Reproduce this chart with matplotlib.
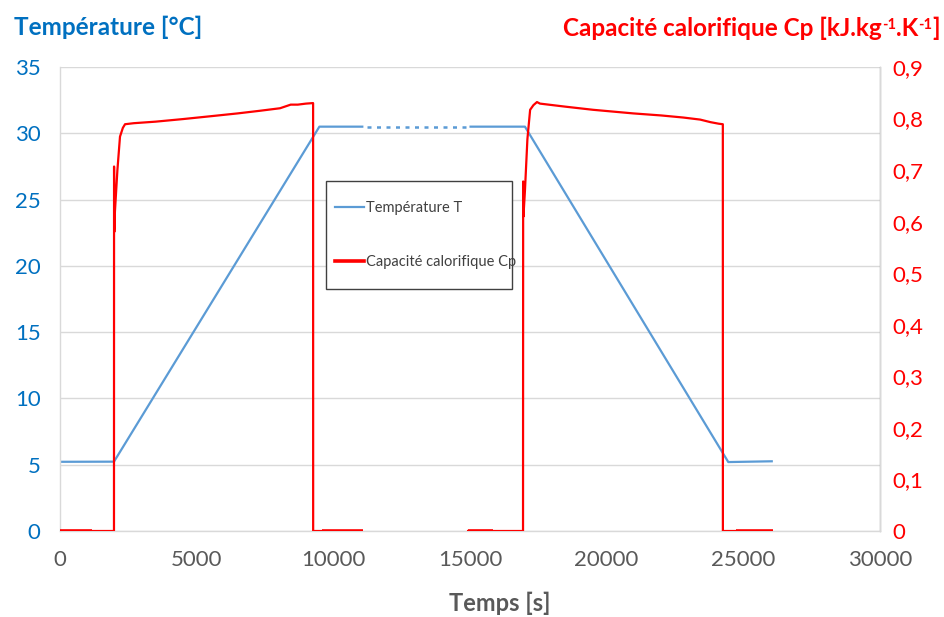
import numpy as np
import matplotlib
matplotlib.use('Agg')
import matplotlib.pyplot as plt
from matplotlib.lines import Line2D
from matplotlib.patches import Rectangle
from matplotlib.ticker import FuncFormatter

plt.rcParams['font.family'] = ['Lato', 'DejaVu Sans']

# temperature T [degC] vs time [s]
t_run1 = [0, 1975, 9490, 11100]
T_run1 = [5.22, 5.23, 30.5, 30.5]
t_gap = [11230, 14880]
T_gap = [30.5, 30.5]
t_run2 = [14980, 17010, 24450, 26080]
T_run2 = [30.5, 30.5, 5.2, 5.26]

# heat capacity Cp [kJ/kg/K] vs time [s]
t_cp1 = [0, 1975, 1978, 1985, 2010, 2100, 2195, 2300, 2380, 2700, 3500, 4500,
         5600, 6500, 7300, 8050, 8440, 8700, 9000, 9260, 9262, 9590]
cp1 = [0, 0, 0.707, 0.58, 0.62, 0.70, 0.765, 0.782, 0.789, 0.791, 0.794, 0.799,
       0.805, 0.810, 0.815, 0.820, 0.827, 0.827, 0.829, 0.830, 0, 0]
t_cp2 = [14930, 16940, 16945, 16955, 17010, 17100, 17200, 17320, 17450, 17560,
         18500, 19500, 20970, 22000, 22800, 23420, 23800, 24100, 24250, 24252, 24730]
cp2 = [0, 0, 0.678, 0.61, 0.66, 0.76, 0.817, 0.826, 0.832, 0.829,
       0.823, 0.817, 0.810, 0.806, 0.802, 0.798, 0.793, 0.790, 0.789, 0, 0]
# heavier stretches of the Cp trace at zero
zero_segs = [(0, 1160), (9590, 11090), (14930, 15840), (24730, 26080)]

blue = '#5B9BD5'
red = '#FF0000'
grey = '#595959'

fig = plt.figure(figsize=(9.44, 6.17), dpi=100)
ax = fig.add_axes([60/944, 1-531/617, 820/944, 464/617])
ax2 = ax.twinx()

ax.plot(t_run1, T_run1, color=blue, lw=1.6, solid_capstyle='butt')
ax.plot(t_gap, T_gap, color=blue, lw=1.8, linestyle=(0, (1.6, 2.2)))
ax.plot(t_run2, T_run2, color=blue, lw=1.6, solid_capstyle='butt')

ax2.plot(t_cp1, cp1, color=red, lw=1.6)
ax2.plot(t_cp2, cp2, color=red, lw=1.6)
for a, b in zero_segs:
    ax2.plot([a, b], [0, 0], color=red, lw=2.6, solid_capstyle='butt')

ax.set_xlim(0, 30000)
ax.set_ylim(0, 35)
ax2.set_ylim(0, 0.9)
ax.set_xticks(np.arange(0, 30001, 5000))
ax.set_yticks(np.arange(0, 36, 5))
ax2.set_yticks(np.arange(0, 0.91, 0.1))
ax2.yaxis.set_major_formatter(FuncFormatter(
    lambda v, p: '0' if abs(v) < 1e-9 else ('%.1f' % v).replace('.', ',')))

ax.grid(axis='y', color='#D9D9D9', lw=1)
ax.set_axisbelow(True)
ax.spines['top'].set_visible(False)
ax2.spines['top'].set_visible(False)
for sp in [ax.spines['left'], ax.spines['bottom'], ax2.spines['right']]:
    sp.set_color('#D9D9D9')
    sp.set_linewidth(1)
ax2.spines['left'].set_visible(False)
ax2.spines['bottom'].set_visible(False)

ax.tick_params(axis='x', length=0, pad=14, labelsize=16, labelcolor=grey)
ax.tick_params(axis='y', length=0, pad=14, labelsize=16, labelcolor='#0070C0')
ax2.tick_params(axis='y', length=0, pad=9, labelsize=16, labelcolor=red)

fig.text(14/944, 1-27/617, 'Température [°C]', color='#0070C0', fontsize=17.5,
         fontweight='bold', ha='left', va='center')
fig.text(500/944, 1-603/617, 'Temps [s]', color=grey, fontsize=17,
         fontweight='bold', ha='center', va='center')

# right title, built piece by piece for the superscripts
pieces = [('Capacité calorifique Cp [kJ.kg', 17.5, 0),
          ('-1', 10.5, 7),
          ('.K', 17.5, 0),
          ('-1', 10.5, 7),
          (']', 17.5, 0)]
fig.canvas.draw()
renderer = fig.canvas.get_renderer()
x_px = 563
base_y = 617 - 36
for s, fs, dy in pieces:
    t = fig.text(x_px/944, (base_y + dy)/617, s, color=red, fontsize=fs,
                 fontweight='bold', ha='left', va='baseline')
    x_px = t.get_window_extent(renderer).x1

# legend box
fig.patches.append(Rectangle((326/944, 1-289/617), 186/944, 108/617,
                             transform=fig.transFigure, facecolor='white',
                             edgecolor='#404040', lw=1, zorder=5))
handles = [Line2D([], [], color=blue, lw=1.6),
           Line2D([], [], color=red, lw=2.6)]
leg = fig.legend(handles, ['Température T', 'Capacité calorifique Cp'],
                 loc='center left', bbox_to_anchor=(328/944, 1-235/617),
                 frameon=False, fontsize=10.5, handlelength=2.0,
                 handletextpad=0.1, labelspacing=2.7, borderpad=0)
for txt in leg.get_texts():
    txt.set_color('#404040')
leg.set_zorder(6)

fig.savefig('out.png', dpi=100)
